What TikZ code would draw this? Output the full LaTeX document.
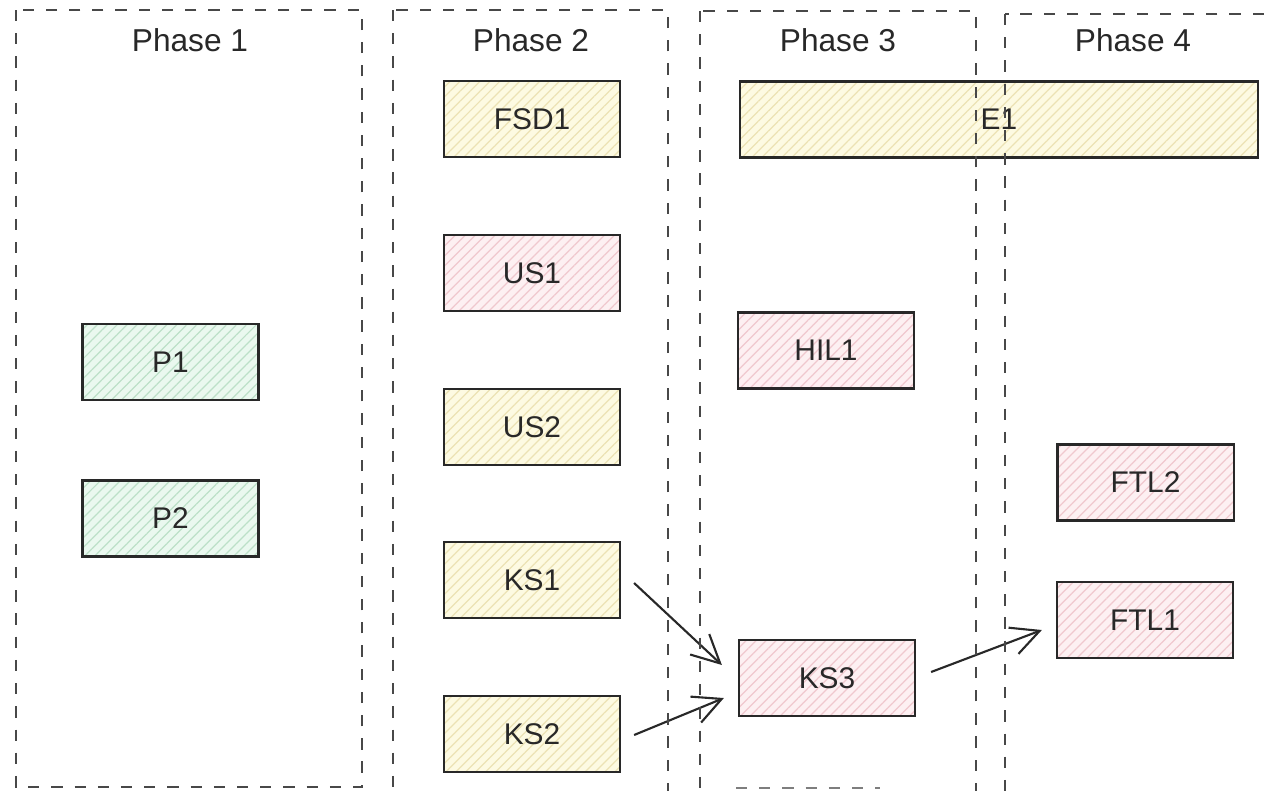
\documentclass[tikz,border=0pt]{standalone}
\usepackage{fontspec}
\setmainfont{Liberation Sans}
\usetikzlibrary{arrows.meta,patterns.meta,calc}
\definecolor{ylw}{RGB}{253,250,226}
\definecolor{ylwh}{RGB}{236,226,180}
\definecolor{pnk}{RGB}{253,240,242}
\definecolor{pnkh}{RGB}{240,200,206}
\definecolor{grn}{RGB}{234,248,239}
\definecolor{grnh}{RGB}{188,224,200}
\definecolor{ink}{RGB}{40,40,40}
\tikzset{
  box/.style={draw=ink, line width=0.6pt, minimum width=1.76cm, minimum height=0.76cm,
    inner sep=0pt, font=\fontsize{8.5}{10}\selectfont, text=ink},
  hatch/.style={preaction={fill=#1}, preaction={pattern color=#1h, pattern={Lines[angle=45,distance=2pt,line width=0.35pt]}}},
  ybox/.style={box, hatch=ylw},
  pbox/.style={box, hatch=pnk},
  gbox/.style={box, hatch=grn},
  phase/.style={draw=ink!85, line width=0.7pt, dash pattern=on 3.2pt off 3.4pt},
  ptitle/.style={font=\fontsize{9}{11}\selectfont, text=ink},
  arr/.style={draw=ink, line width=0.6pt, -{Straight Barb[length=2.8mm,width=2.8mm,line width=0.6pt]}}
}
\begin{document}
\begin{tikzpicture}[x=0.01cm,y=-0.01cm]
\useasboundingbox (0,0) rectangle (1266,790);
\fill[white] (0,0) rectangle (1266,790);

% nodes
\node[ybox] (FSD1) at (532,119) {FSD1};
\node[ybox, minimum width=5.18cm] (E1) at (999,119.5) {E1};
\node[pbox] (US1) at (532,273) {US1};
\node[gbox] (P1) at (170.5,362) {P1};
\node[pbox] (HIL1) at (826,350.5) {HIL1};
\node[ybox] (US2) at (532,427) {US2};
\node[pbox] (FTL2) at (1145.5,482.5) {FTL2};
\node[gbox] (P2) at (170.5,518.5) {P2};
\node[ybox] (KS1) at (532,580) {KS1};
\node[pbox] (FTL1) at (1145,620) {FTL1};
\node[pbox] (KS3) at (827,678) {KS3};
\node[ybox] (KS2) at (532,734) {KS2};

% connectors
\draw[arr] ($(KS1.east)+(13,3)$) -- ($(KS3.west)+(-16,-13)$);
\draw[arr] ($(KS2.east)+(13,1)$) -- ($(KS3.west)+(-14,20)$);
\draw[arr] ($(KS3.east)+(15,-6)$) -- ($(FTL1.west)+(-14,10)$);

% phases
\begin{scope}
\clip (0,0) rectangle (1266,790);
\draw[phase] (16,10) rectangle (362,787);
\draw[phase] (393,10) rectangle (668,810);
\draw[phase] (700,11) rectangle (976,810);
\draw[phase] (1005,14) rectangle (1290,810);
\draw[phase, draw=ink!60] (736,788) -- (880,788);
\end{scope}

\node[ptitle] (t1) at (190,40) {Phase 1};
\node[ptitle] (t2) at (531,40) {Phase 2};
\node[ptitle] (t3) at (838,40) {Phase 3};
\node[ptitle] (t4) at (1133,40) {Phase 4};
\end{tikzpicture}
\end{document}
